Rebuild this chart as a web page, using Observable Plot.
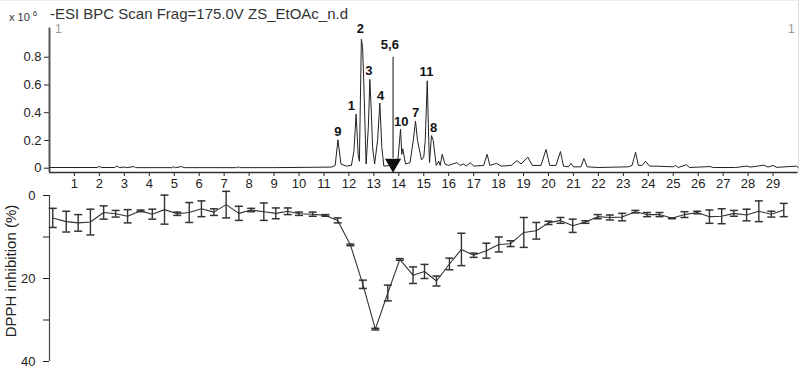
<!DOCTYPE html>
<html>
<head>
<meta charset="utf-8">
<script src="https://cdn.jsdelivr.net/npm/d3@7"></script>
<script src="https://cdn.jsdelivr.net/npm/@observablehq/plot@0.6"></script>
<style>
  body { margin: 0; background: #fff; }
  #wrap { position: relative; width: 800px; height: 370px; background: #fff; font-family: Arial, "Liberation Sans", sans-serif; overflow: hidden; }
  .abs { position: absolute; white-space: nowrap; }
</style>
</head>
<body>
<div id="wrap">
  <div class="abs" style="left:0;top:0;width:798px;height:172px;border-top:1px solid #ececec;border-right:1px solid #dcdcdc;"></div>
  <div id="top" class="abs" style="left:0;top:0"></div>
  <div id="bottom" class="abs" style="left:0;top:188px"></div>
  <div class="abs" style="left:50px;top:5px;font-size:15px;color:#333;">-ESI BPC Scan Frag=175.0V ZS_EtOAc_n.d</div>
  <div class="abs" style="left:9px;top:9px;font-size:11px;color:#333;">x 10 <sup style="font-size:8px;">6</sup></div>
  <div class="abs" style="left:55px;top:22px;font-size:12px;color:#999;">1</div>
  <div class="abs" style="left:788px;top:22px;font-size:12px;color:#999;">1</div>
</div>
<script>
// ---- Chromatogram (top), retention time in min, intensity x10^6 ----
const chromTime = [0.0,1.9,2.0,2.1,2.6,2.71,2.8,3.0,3.1,3.38,3.45,4.9,4.96,5.05,5.29,5.4,7.5,7.56,7.62,9.0,
  11.3,11.45,11.56,11.68,11.9,12.1,12.2,12.29,12.37,12.42,12.5,12.55,12.6,12.69,12.78,12.84,12.9,12.95,13.03,
  13.15,13.24,13.32,13.4,13.7,13.95,14.07,14.12,14.16,14.27,14.45,14.58,14.67,14.75,14.91,15.0,15.06,15.14,
  15.2,15.23,15.31,15.38,15.5,15.6,15.66,15.74,15.85,16.0,16.15,16.34,16.45,16.6,16.7,16.87,17.0,17.4,17.54,
  17.65,17.92,18.1,18.5,18.74,18.9,19.17,19.35,19.7,19.9,20.05,20.3,20.48,20.6,20.8,20.9,21.0,21.3,21.42,21.55,
  22.0,23.2,23.35,23.49,23.6,23.75,23.89,24.05,24.3,25.0,25.09,25.2,25.53,25.65,26.47,26.6,27.5,27.93,28.1,
  28.63,28.8,29.0,29.15,29.93,30.0];
const chromIntensity = [0.005,0.005,0.012,0.005,0.005,0.015,0.005,0.008,0.004,0.012,0.004,0.004,0.01,0.004,0.012,0.004,0.004,0.01,0.004,0.004,
  0.008,0.02,0.205,0.03,0.015,0.02,0.12,0.39,0.1,0.05,0.93,0.87,0.6,0.03,0.3,0.64,0.4,0.15,0.03,
  0.2,0.47,0.15,0.015,0.02,0.03,0.28,0.1,0.14,0.03,0.04,0.2,0.34,0.2,0.06,0.08,0.2,0.63,
  0.2,0.04,0.235,0.2,0.02,0.05,0.02,0.10,0.03,0.02,0.03,0.04,0.02,0.03,0.015,0.04,0.015,0.02,0.10,
  0.02,0.035,0.015,0.02,0.055,0.03,0.08,0.02,0.02,0.135,0.02,0.02,0.12,0.015,0.01,0.035,0.01,0.01,0.07,0.01,
  0.005,0.01,0.02,0.115,0.02,0.02,0.05,0.015,0.015,0.01,0.02,0.005,0.025,0.005,0.012,0.005,0.005,0.015,0.008,
  0.022,0.008,0.02,0.006,0.015,0.006];

const peakLabels = ["9","1","2","3","4","5,6","10","7","11","8"];
const peakLabelTime = [11.56,12.10,12.46,12.80,13.27,13.64,14.10,14.67,15.11,15.40];
const peakLabelValue = [0.259,0.447,1.005,0.704,0.524,0.889,0.332,0.399,0.692,0.291];
const arrowTime = [13.77];
const arrowFrom = [0.8];
const arrowTo = [0.07];
const arrowHead = [0.034];

const timeTicks = [1,2,3,4,5,6,7,8,9,10,11,12,13,14,15,16,17,18,19,20,21,22,23,24,25,26,27,28,29];
const intensityTicks = [0, 0.2, 0.4, 0.6, 0.8];

// ---- DPPH inhibition of fractions (bottom) ----
const fractionTime = [0.13,0.67,1.15,1.64,2.17,2.65,3.13,3.65,4.12,4.61,5.12,5.6,6.09,6.59,7.08,7.59,8.08,8.59,9.07,9.55,
  10.0,10.55,11.06,11.55,12.06,12.56,13.06,13.56,14.04,14.57,15.03,15.51,16.03,16.51,17.0,17.51,18.01,18.48,19.01,19.51,
  20.0,20.48,20.97,21.48,21.97,22.46,22.95,23.48,23.95,24.45,24.95,25.45,25.96,26.45,26.94,27.43,27.94,28.43,28.93,29.43];
const inhibitionMean = [5.4,6.3,6.6,6.4,4.1,4.4,5.0,3.7,4.5,3.4,
  4.4,4.1,3.2,4.0,2.2,4.3,3.5,3.9,4.3,3.8,
  4.4,4.5,4.8,6.0,11.9,21.4,32.2,23.5,15.4,19.2,
  18.3,20.6,16.5,13.0,14.4,13.3,11.8,11.6,8.9,8.5,
  6.6,6.0,7.3,6.4,5.1,5.3,5.2,3.9,4.6,4.6,
  5.5,4.6,4.1,5.1,5.0,4.3,4.7,3.8,4.5,3.5];
const inhibitionErr = [2.3,2.5,2.0,3.1,1.6,0.8,1.6,0.2,1.2,3.5,
  0.4,2.4,1.9,0.8,3.2,1.7,0.4,2.1,1.3,0.8,
  0.4,0.5,0.2,0.6,0.2,1.0,0.2,1.9,0.2,2.0,
  1.7,1.2,1.4,3.9,0.5,1.8,1.8,0.7,3.6,2.0,
  0.4,0.7,1.6,0.3,0.5,0.6,0.9,0.3,0.5,0.5,
  0.1,0.7,0.3,1.6,1.8,0.7,1.4,2.5,0.7,1.6];
const inhibitionTicks = [0, 10, 20, 30, 40];
const inhibitionLabels = ["0", "", "20", "", "40"];

const chrom = chromTime.map((t, i) => ({t, v: chromIntensity[i]}));
const labels = peakLabels.map((s, i) => ({s, t: peakLabelTime[i], v: peakLabelValue[i]}));
const frac = fractionTime.map((t, i) => ({t, m: inhibitionMean[i], e: inhibitionErr[i]}));

const capSymbol = {
  draw(ctx, size) {
    const w = Math.sqrt(size / Math.PI);
    ctx.moveTo(-w, 0);
    ctx.lineTo(w, 0);
  }
};

const font = {fontFamily: "Arial, 'Liberation Sans', sans-serif", fontSize: "13px", color: "#222", background: "transparent", overflow: "visible"};

const topPlot = Plot.plot({
  width: 800,
  height: 192,
  marginLeft: 49,
  marginRight: 2.5,
  marginTop: 29,
  marginBottom: 20,
  style: font,
  x: {domain: [0, 30], ticks: timeTicks, tickSize: 4, tickPadding: 2, label: null, tickFormat: d => String(d)},
  y: {domain: [-0.031, 1.0], ticks: intensityTicks, tickSize: 5, tickPadding: 3, label: null,
      tickFormat: d => d === 0 ? "0" : d.toFixed(1)},
  marks: [
    Plot.ruleY([-0.031], {stroke: "#333", strokeWidth: 1.5}),
    Plot.ruleX([0], {y1: -0.031, y2: 1.01, stroke: "#555", strokeWidth: 2}),
    Plot.line(chrom, {x: "t", y: "v", stroke: "#222", strokeWidth: 1}),
    Plot.ruleX(arrowTime, {x: d => d, y1: arrowFrom[0], y2: arrowTo[0], stroke: "#111", strokeWidth: 1}),
    Plot.dot(arrowTime, {x: d => d, y: arrowHead[0], symbol: "triangle", rotate: 180, r: 6, fill: "#111", stroke: "none"}),
    Plot.text(labels, {x: "t", y: "v", text: "s", fontWeight: "bold", fontSize: 13, fill: "#111"})
  ]
});
document.getElementById("top").appendChild(topPlot);

const bottomPlot = Plot.plot({
  width: 800,
  height: 182,
  marginLeft: 49,
  marginRight: 2.5,
  marginTop: 7,
  marginBottom: 9,
  style: font,
  x: {domain: [0, 30], axis: null},
  y: {domain: [0, 40], reverse: true, ticks: inhibitionTicks, tickSize: 6, tickPadding: 8, label: null,
      tickFormat: (d, i) => inhibitionLabels[inhibitionTicks.indexOf(d)]},
  marks: [
    Plot.ruleX([0], {y1: 0, y2: 40, stroke: "#444", strokeWidth: 1.2}),
    Plot.line(frac, {x: "t", y: "m", stroke: "#333", strokeWidth: 1.1}),
    Plot.ruleX(frac, {x: "t", y1: d => d.m - d.e, y2: d => d.m + d.e, stroke: "#333", strokeWidth: 1.4}),
    Plot.dot(frac, {x: "t", y: d => d.m - d.e, symbol: capSymbol, r: 4, stroke: "#333", strokeWidth: 1.5, fill: "none"}),
    Plot.dot(frac, {x: "t", y: d => d.m + d.e, symbol: capSymbol, r: 4, stroke: "#333", strokeWidth: 1.5, fill: "none"})
  ]
});
document.getElementById("bottom").appendChild(bottomPlot);
</script>
<div class="abs" style="position:absolute;left:10px;top:271px;transform:translate(-50%,-50%) rotate(-90deg);font-family:Arial,'Liberation Sans',sans-serif;font-size:15px;color:#222;white-space:nowrap;">DPPH inhibition (%)</div>
</body>
</html>
